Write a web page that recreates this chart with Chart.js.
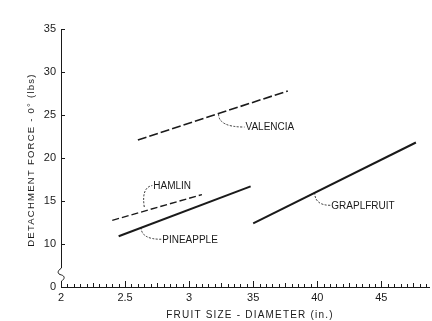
<!DOCTYPE html>
<html>
<head>
<meta charset="utf-8">
<script src="https://cdn.jsdelivr.net/npm/chart.js@4/dist/chart.umd.min.js"></script>
<style>
html,body{margin:0;padding:0;background:#fff;}
#wrap{width:432px;height:321px;position:relative;}
</style>
</head>
<body>
<div id="wrap"><canvas id="c" width="432" height="321"></canvas></div>
<script>
// ---- data ----
const valenciaX = [2.60, 3.77];
const valenciaY = [22.1, 27.8];
const hamlinX = [2.40, 3.10];
const hamlinY = [12.75, 15.75];
const pineappleX = [2.45, 3.48];
const pineappleY = [10.9, 16.7];
const grapefruitX = [3.50, 4.77];
const grapefruitY = [12.4, 21.8];

// axis ticks: value -> printed label (0 sits on the broken-axis position)
const xTickValues = [2, 2.5, 3, 3.5, 4, 4.5];
const xTickLabels = ["2", "2.5", "3", "35", "40", "45"];
const yTickValues = [5, 10, 15, 20, 25, 30, 35];
const yTickLabels = ["0", "10", "15", "20", "25", "30", "35"];

const xTitle = 'FRUIT SIZE - DIAMETER (in.)';
const yTitle = 'DETACHMENT FORCE - 0° (lbs)';

// curve labels: text, start point on line, text anchor (data units)
const labelTexts = ["VALENCIA", "HAMLIN", "PINEAPPLE", "GRAPLFRUIT"];
const labelFromX = [3.23, 2.65, 2.625, 3.98];
const labelFromY = [25.1, 14.3, 11.95, 16.0];
const labelToX = [3.44, 2.72, 2.79, 4.11];
const labelToY = [23.6, 16.8, 10.55, 14.5];
const labelCurve = [1, -1, 1, 1];

const INK = '#1a1a1a';
const FONT = '"Liberation Sans", Arial, sans-serif';
const pts = (xs, ys) => xs.map((x, i) => ({x, y: ys[i]}));

const overlay = {
  id: 'overlay',
  afterDraw(chart) {
    const ctx = chart.ctx;
    const xs = chart.scales.x, ys = chart.scales.y;
    const a = chart.chartArea;
    ctx.save();
    ctx.strokeStyle = INK;
    ctx.lineWidth = 1;
    // y axis line with break
    const yb = ys.getPixelForValue(5);
    const yBreak = yb - 14;
    ctx.beginPath();
    ctx.moveTo(a.left + 0.5, a.top);
    ctx.lineTo(a.left + 0.5, yBreak - 5);
    ctx.bezierCurveTo(a.left - 4, yBreak - 2, a.left - 4, yBreak + 1, a.left + 0.5, yBreak + 2);
    ctx.bezierCurveTo(a.left + 4, yBreak + 3, a.left + 4, yBreak + 6, a.left + 0.5, yBreak + 8);
    ctx.lineTo(a.left + 0.5, yb);
    ctx.stroke();
    // top tick
    ctx.beginPath();
    ctx.moveTo(a.left, a.top + 0.5); ctx.lineTo(a.left + 4, a.top + 0.5);
    ctx.stroke();
    // y ticks inward
    yTickValues.forEach(v => {
      if (v === 5 || v === 35) return;
      const p = Math.round(ys.getPixelForValue(v)) + 0.5;
      ctx.beginPath();
      ctx.moveTo(a.left, p); ctx.lineTo(a.left + 4, p);
      ctx.stroke();
    });
    // x axis line
    ctx.beginPath();
    ctx.moveTo(a.left, Math.round(yb) + 0.5);
    ctx.lineTo(a.right, Math.round(yb) + 0.5);
    ctx.stroke();
    // x ticks (minor every 0.05, major at 0.5)
    for (let i = 0; i <= 57; i++) {
      const v = 2 + i * 0.05;
      if (v > xs.max) break;
      const p = Math.round(xs.getPixelForValue(v)) + 0.5;
      const major = i % 10 === 0;
      const len = major ? 6 : (i % 5 === 0 ? 4 : 3);
      ctx.beginPath();
      ctx.moveTo(p, yb); ctx.lineTo(p, yb - len);
      ctx.stroke();
    }
    // axis titles
    ctx.fillStyle = INK;
    ctx.textAlign = 'center';
    ctx.textBaseline = 'middle';
    ctx.font = '9.5px ' + FONT;
    ctx.letterSpacing = '1.25px';
    ctx.save();
    ctx.translate(31, 160);
    ctx.rotate(-Math.PI / 2);
    ctx.fillText(yTitle, 0, 0);
    ctx.restore();
    ctx.font = '10px ' + FONT;
    ctx.letterSpacing = '1.2px';
    ctx.fillText(xTitle, 250, 315);
    ctx.letterSpacing = '0px';
    // leader curves and labels
    ctx.font = '10px ' + FONT;
    ctx.textAlign = 'left';
    ctx.lineWidth = 0.9;
    labelTexts.forEach((t, i) => {
      const x0 = xs.getPixelForValue(labelFromX[i]);
      const y0 = ys.getPixelForValue(labelFromY[i]);
      const x1 = xs.getPixelForValue(labelToX[i]);
      const y1 = ys.getPixelForValue(labelToY[i]);
      ctx.beginPath();
      ctx.setLineDash([2, 1.5]);
      ctx.moveTo(x0, y0);
      if (labelCurve[i] > 0) {
        ctx.quadraticCurveTo(x0, y1, x1 - 1, y1);
      } else {
        ctx.quadraticCurveTo(x0 - 3, y1 + 2, x1 - 1, y1);
      }
      ctx.stroke();
      ctx.setLineDash([]);
      ctx.fillText(t, x1, y1 + 0.5);
    });
    ctx.restore();
  }
};

new Chart(document.getElementById('c'), {
  type: 'line',
  data: {
    datasets: [
      {label: 'Valencia', data: pts(valenciaX, valenciaY), borderColor: INK, borderWidth: 1.6, borderDash: [9, 3]},
      {label: 'Hamlin', data: pts(hamlinX, hamlinY), borderColor: INK, borderWidth: 1.4, borderDash: [7, 3]},
      {label: 'Pineapple', data: pts(pineappleX, pineappleY), borderColor: INK, borderWidth: 2},
      {label: 'Grapefruit', data: pts(grapefruitX, grapefruitY), borderColor: INK, borderWidth: 2}
    ]
  },
  options: {
    responsive: false,
    animation: false,
    devicePixelRatio: 1,
    elements: {point: {radius: 0}, line: {tension: 0}},
    layout: {padding: {left: 0, right: 2, top: 29, bottom: 0}},
    plugins: {legend: {display: false}, tooltip: {enabled: false}},
    scales: {
      x: {
        type: 'linear', min: 2, max: 4.88,
        afterBuildTicks: s => { s.ticks = xTickValues.map(v => ({value: v})); },
        afterFit: s => { s.height = 34; },
        grid: {display: false, drawTicks: false},
        border: {display: false},
        ticks: {
          padding: 4, color: INK, maxRotation: 0, autoSkip: false,
          font: {family: FONT, size: 11},
          callback: (v) => { const i = xTickValues.indexOf(v); return i >= 0 ? xTickLabels[i] : ''; }
        }
      },
      y: {
        type: 'linear', min: 5, max: 35,
        afterBuildTicks: s => { s.ticks = yTickValues.map(v => ({value: v})); },
        afterFit: s => { s.width = 61; },
        grid: {display: false, drawTicks: false},
        border: {display: false},
        ticks: {
          padding: 5, color: INK, autoSkip: false,
          font: {family: FONT, size: 11},
          callback: (v) => { const i = yTickValues.indexOf(v); return i >= 0 ? yTickLabels[i] : ''; }
        }
      }
    }
  },
  plugins: [overlay]
});
</script>
</body>
</html>
